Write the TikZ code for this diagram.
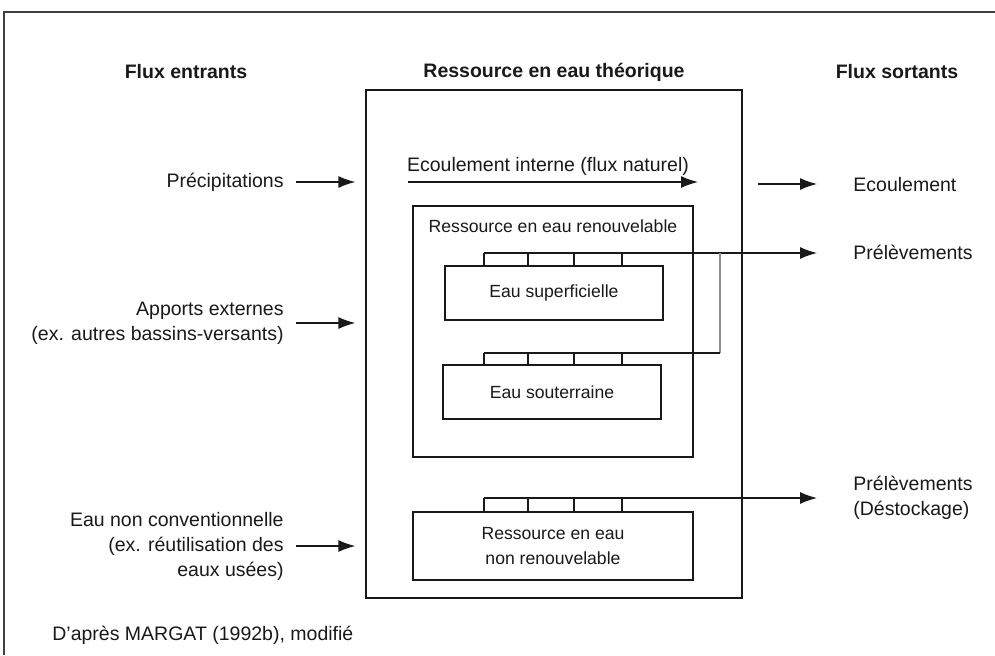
\documentclass[tikz,border=0pt]{standalone}
\usepackage{fontspec}
\setmainfont{Liberation Sans}
\usetikzlibrary{arrows.meta}
\begin{document}
\begin{tikzpicture}[x=0.5pt,y=-0.5pt,
  every node/.style={font=\fontsize{9.75}{12.5}\selectfont, text=black!90, inner sep=0pt},
  box/.style={draw=black!90, line width=0.65pt},
  small/.style={font=\fontsize{8.8}{12.5}\selectfont},
  hdr/.style={font=\fontsize{9.75}{12.5}\selectfont\bfseries},
  arr/.style={draw=black!90, line width=0.65pt, -{Latex[length=8.5pt,width=6pt]}},
  ln/.style={draw=black!90, line width=0.65pt},
  glin/.style={draw=black!45, line width=0.65pt}]
\useasboundingbox (0,0) rectangle (995,655);
% outer frame
\draw[black!75, line width=1pt] (4,655) -- (4,12) -- (995,12);
% headers
\node[hdr] (hin) at (186,72) {Flux entrants};
\node[hdr] (hres) at (554,72) {Ressource en eau théorique};
\node[hdr] (hout) at (897,72) {Flux sortants};
% boxes
\node[box, minimum width=188pt, minimum height=254pt] (main) at (554,344) {};
\node[box, minimum width=140pt, minimum height=125.5pt] (ren) at (553,331.5) {};
\node[small] (rent) at (553,226) {Ressource en eau renouvelable};
\node[box, small, minimum width=109pt, minimum height=27pt] (sup) at (554,293) {Eau superficielle};
\node[box, small, minimum width=109pt, minimum height=27pt] (sou) at (552,392) {Eau souterraine};
\node[box, small, minimum width=140pt, minimum height=34pt, align=center] (nren) at (553,546) {Ressource en eau\\non renouvelable};
% internal flow
\node (eint) at (548,166) {Ecoulement interne (flux naturel)};
\coordinate (ei1) at (408,182);
\coordinate (ei2) at (698,182);
\draw[arr] (ei1) -- (ei2);
% left inputs
\node[anchor=east] (prec) at (284,182) {Précipitations};
\node[anchor=east, align=right] (app) at (284,323) {Apports externes\\(ex. autres bassins-versants)};
\node[anchor=east, align=right] (enc) at (284,546) {Eau non conventionnelle\\(ex. réutilisation des\\eaux usées)};
\draw[arr] ([xshift=6pt]prec.east) -- ([xshift=-5pt]main.west |- prec.east);
\draw[arr] ([xshift=6pt]app.east) -- ([xshift=-5pt]main.west |- app.east);
\draw[arr] ([xshift=6pt]enc.east) -- ([xshift=-5pt]main.west |- enc.east);
% right outputs
\node[anchor=west] (ecl) at (853,185) {Ecoulement};
\node[anchor=west] (pre1) at (853,252) {Prélèvements};
\node[anchor=west, align=left] (pre2) at (853,498) {Prélèvements\\(Déstockage)};
\coordinate (ec0) at (758,184);
\draw[arr] (ec0) -- ([xshift=-18pt]ecl.west |- ec0);
% withdrawals from renewable
\coordinate (a1) at (484,253);
\coordinate (a2) at (528,253);
\coordinate (a3) at (574,253);
\coordinate (a4) at (622,253);
\draw[arr] (a1) -- ([xshift=-18pt]pre1.west |- a1);
\foreach \c in {a1,a2,a3,a4} \draw[ln] (\c) -- (\c |- sup.north);
\coordinate (g1) at (720,253);
\coordinate (g2) at (720,353);
\coordinate (b1) at (484,353);
\coordinate (b2) at (528,353);
\coordinate (b3) at (574,353);
\coordinate (b4) at (622,353);
\draw[glin] (g1) -- (g2);
\draw[ln] (g2) -- (b1);
\foreach \c in {b1,b2,b3,b4} \draw[ln] (\c) -- (\c |- sou.north);
% withdrawals from non-renewable
\coordinate (c1) at (484,498);
\coordinate (c2) at (528,498);
\coordinate (c3) at (574,498);
\coordinate (c4) at (622,498);
\draw[arr] (c1) -- ([xshift=-18pt]pre2.west |- c1);
\foreach \c in {c1,c2,c3,c4} \draw[ln] (\c) -- (\c |- nren.north);
% source
\node[anchor=west] (src) at (52,635) {D'après MARGAT (1992b), modifié};
\end{tikzpicture}
\end{document}
